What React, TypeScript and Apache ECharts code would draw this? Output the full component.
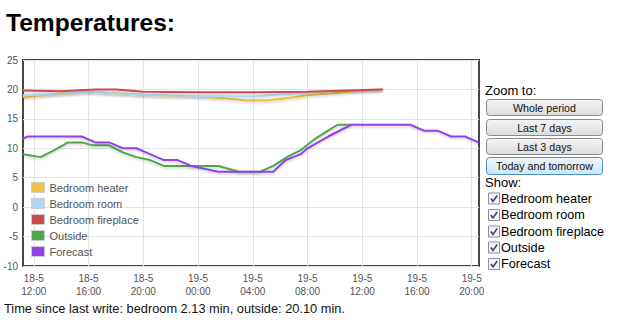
import React, { useEffect, useRef } from "react";
import * as echarts from "echarts";

const seriesNames = ["Bedroom heater", "Bedroom room", "Bedroom fireplace", "Outside", "Forecast"];
const seriesColors = ["#edc240", "#afd8f8", "#cb4b4b", "#4da74d", "#9440ed"];

// hours since 18-5 00:00
const heaterHours = [11.2, 13, 16, 20, 24, 26, 27.5, 29, 30.5, 32, 34, 36, 37.5];
const heaterTemps = [18.7, 19.1, 19.6, 19.1, 18.8, 18.5, 18.1, 18.1, 18.5, 19, 19.4, 19.8, 20];

const roomHours = [11.2, 13, 16, 20, 24, 28, 31, 34.5, 37.5];
const roomTemps = [19, 19.2, 19.6, 19.1, 18.9, 18.8, 19.3, 19.8, 20];

const fireplaceHours = [11.2, 14, 16.5, 18, 20, 24, 28, 32, 37.5];
const fireplaceTemps = [19.8, 19.7, 20, 20, 19.6, 19.5, 19.5, 19.6, 20];

const outsideHours = [11.2, 12.5, 13.5, 14.5, 15.5, 16.3, 17.5, 18.5, 19.5, 20.5, 21.5, 22.5, 25.5, 27, 28.5, 29.5, 30.5, 31.5, 32.5, 33.5, 34.2, 35.2];
const outsideTemps = [9, 8.5, 9.7, 11, 11, 10.5, 10.5, 9.3, 8.5, 8, 7, 7, 7, 6, 6, 7, 8.5, 9.7, 11.5, 13, 14, 14];

const forecastHours = [11.2, 11.5, 15.5, 16.5, 17.5, 18.5, 19.5, 20.5, 21.5, 22.5, 23.5, 25.5, 29.5, 30.4, 31.5, 32, 33.5, 35.2, 39.5, 40.5, 41.5, 42.5, 43.5, 44.5];
const forecastTemps = [11.6, 12, 12, 11, 11, 10, 10, 9, 8, 8, 7, 6, 6, 8, 9, 10, 12, 14, 14, 13, 13, 12, 12, 11];

const xTickHours = [12, 16, 20, 24, 28, 32, 36, 40, 44];
const yTicks = [-10, -5, 0, 5, 10, 15, 20, 25];

const zoomButtons = ["Whole period", "Last 7 days", "Last 3 days", "Today and tomorrow"];
const titleText = "Temperatures:";
const footerText = "Time since last write: bedroom 2.13 min, outside: 20.10 min.";

const allHours = [heaterHours, roomHours, fireplaceHours, outsideHours, forecastHours];
const allTemps = [heaterTemps, roomTemps, fireplaceTemps, outsideTemps, forecastTemps];

function fmtX(v: number): string {
  const day = 18 + Math.floor(v / 24);
  const h = Math.round(v - Math.floor(v / 24) * 24);
  return day + "-5\n" + (h < 10 ? "0" + h : "" + h) + ":00";
}

export default function App() {
  const ref = useRef<HTMLDivElement>(null);
  useEffect(() => {
    if (!ref.current) return;
    const chart = echarts.init(ref.current, null, { renderer: "svg" });
    const font = "Liberation Sans, Arial, sans-serif";

    const series = seriesNames.map((name, i) => ({
      name,
      type: "line",
      showSymbol: false,
      color: seriesColors[i],
      data: allHours[i].map((h, j) => [h, allTemps[i][j]]),
      lineStyle: {
        width: 2,
        color: seriesColors[i],
        shadowColor: "rgba(0,0,0,0.18)",
        shadowBlur: 2,
        shadowOffsetY: 1.5,
      },
      z: 2 + i,
    }));

    const graphics: any[] = [];
    graphics.push({
      type: "text",
      x: 6,
      y: 22.5,
      style: { text: titleText, font: "bold 24.6px " + font, fill: "#000", verticalAlign: "middle" },
    });
    graphics.push({
      type: "text",
      x: 4,
      y: 308,
      style: { text: footerText, font: "12.8px " + font, fill: "#111", verticalAlign: "middle" },
    });
    graphics.push({
      type: "text",
      x: 485,
      y: 90,
      style: { text: "Zoom to:", font: "13px " + font, fill: "#000", verticalAlign: "middle" },
    });
    const btnTops = [99, 119, 138, 157];
    zoomButtons.forEach((label, i) => {
      const active = i === 3;
      graphics.push({
        type: "rect",
        shape: { x: 486.5, y: btnTops[i] + 0.5, width: 116, height: active ? 17 : 16, r: 3 },
        style: {
          fill: new echarts.graphic.LinearGradient(0, 0, 0, 1, active
            ? [{ offset: 0, color: "#eef6fc" }, { offset: 1, color: "#cfe4f3" }]
            : [{ offset: 0, color: "#f4f4f4" }, { offset: 1, color: "#dcdcdc" }]),
          stroke: active ? "#4a8ec0" : "#8a8a8a",
          lineWidth: 1,
        },
      });
      graphics.push({
        type: "text",
        x: 544.5,
        y: btnTops[i] + (active ? 9 : 8.5),
        style: { text: label, font: "10.7px " + font, fill: "#111", align: "center", verticalAlign: "middle" },
      });
    });
    graphics.push({
      type: "text",
      x: 485,
      y: 182,
      style: { text: "Show:", font: "13px " + font, fill: "#000", verticalAlign: "middle" },
    });
    const cbY = [198.5, 215, 231.5, 247.5, 264];
    seriesNames.forEach((name, i) => {
      const cy = cbY[i];
      graphics.push({
        type: "rect",
        shape: { x: 488.5, y: cy - 5.5, width: 11, height: 11 },
        style: { fill: "#f4f4f4", stroke: "#8f8f8f", lineWidth: 1 },
      });
      graphics.push({
        type: "polyline",
        shape: { points: [[490.8, cy], [493, cy + 2.8], [497.2, cy - 3]] },
        style: { stroke: "#3a4a7a", lineWidth: 1.6, fill: null },
      });
      graphics.push({
        type: "text",
        x: 501,
        y: cy,
        style: { text: name, font: "12.7px " + font, fill: "#000", verticalAlign: "middle" },
      });
    });

    chart.setOption({
      animation: false,
      textStyle: { fontFamily: font },
      grid: {
        left: 23,
        top: 60,
        width: 456,
        height: 206,
        show: true,
        borderColor: "#474747",
        borderWidth: 2,
        backgroundColor: "#fff",
        containLabel: false,
      },
      legend: {
        orient: "vertical",
        left: 31,
        top: 182,
        padding: 0,
        icon: "rect",
        itemWidth: 13,
        itemHeight: 10,
        itemGap: 5,
        selectedMode: false,
        itemStyle: { borderColor: "#cccccc", borderWidth: 1 },
        textStyle: { fontSize: 11, color: "#545454", fontFamily: font, padding: [0, 0, 0, 0], lineHeight: 11 },
        data: seriesNames,
      },
      xAxis: {
        type: "value",
        min: 11.21,
        max: 44.53,
        axisLine: { show: false },
        axisTick: { show: false, customValues: xTickHours },
        axisLabel: {
          customValues: xTickHours,
          formatter: (v: number) => fmtX(v),
          fontSize: 10,
          color: "#545454",
          lineHeight: 13,
          margin: 6,
        },
        splitLine: { show: true, lineStyle: { color: "#e2e2e2", width: 1 } },
      },
      yAxis: {
        type: "value",
        min: yTicks[0],
        max: yTicks[yTicks.length - 1],
        interval: 5,
        axisLine: { show: false },
        axisTick: { show: false },
        axisLabel: { fontSize: 10, color: "#545454", margin: 5 },
        splitLine: { show: true, lineStyle: { color: "#e2e2e2", width: 1 } },
      },
      graphic: graphics,
      series,
    });
    return () => chart.dispose();
  }, []);
  return (
    <div
      ref={ref}
      style={{ position: "absolute", left: 0, top: 0, width: 620, height: 336, background: "#fff" }}
    />
  );
}
